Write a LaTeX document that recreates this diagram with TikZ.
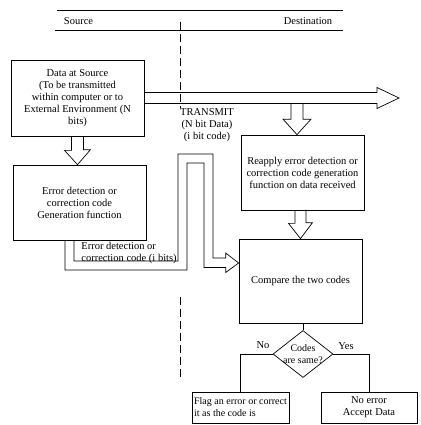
\documentclass[tikz,border=0pt]{standalone}
\usepackage{fontspec}
\setmainfont{Liberation Serif}
\usetikzlibrary{shapes.geometric,calc}

\begin{document}
\begin{tikzpicture}[x=1pt,y=-1pt,line width=0.7pt,
    every node/.style={font=\fontsize{10.5}{12}\selectfont},
    box/.style={draw,rectangle,align=center,inner sep=2pt},
    hollow/.style={draw,line join=miter},
    border/.style={dash pattern=on 8pt off 4pt}]
    \useasboundingbox (0,0) rectangle (420,425);
    % boxes
    \node [box, minimum width=133pt, minimum height=76pt] (src) at (77.5,98)
        {Data at Source\\(To be transmitted\\within computer or to\\External Environment (N\\bits)};
    \node [box, minimum width=133pt, minimum height=75pt] (gen) at (79.5,202.5)
        {Error detection or\\correction code\\Generation function};
    \node [box, minimum width=123pt, minimum height=75pt] (reapply) at (302.5,172.5)
        {Reapply error detection or\\correction code generation\\function on data received};
    \node [box, minimum width=123pt, minimum height=84pt] (compare) at (300.5,281)
        {Compare the two codes};
    \node [draw, diamond, aspect=1.28, inner sep=-3pt, align=center,
        font=\fontsize{10}{12}\selectfont,
        minimum width=60pt, minimum height=47pt] (check) at (303,354)
        {Codes\\are same?};
    \node [box, minimum width=97pt, minimum height=31pt, align=left, inner sep=1.5pt,
        font=\fontsize{10}{12}\selectfont] (flag) at (240.5,407.5)
        {Flag an error or correct\\it as the code is};
    \node [box, minimum width=96pt, minimum height=31pt] (accept) at (369,407.5)
        {No error\\Accept Data};
    % labels
    \node (srclbl) at (78.5,21) {Source};
    \node (dstlbl) at (308,21) {Destination};
    \node [align=center] (txlbl) at (207,125) {TRANSMIT\\(N bit Data)\\(i bit code)};
    \node [align=left, anchor=west, inner sep=1pt] (codelbl) at (80,252.5) {Error detection or\\correction code (i bits)};
    \node (nolbl) at (263,345) {No};
    \node (yeslbl) at (346,346) {Yes};
    % source / destination border
    \coordinate (R1) at (57,10);
    \coordinate (R2) at (343,10);
    \coordinate (R3) at (55,30);
    \coordinate (R4) at (343,30);
    \coordinate (D1) at (180,22);
    \coordinate (D2) at (180,108);
    \coordinate (D3) at (180,297);
    \coordinate (D4) at (180,380);
    \draw (R1) -- (R2);
    \draw (R3) -- (R4);
    \draw [border] (D1) -- (D2);
    \draw [border] (D3) -- (D4);
    % hollow arrows
    \coordinate (tipR) at (399,98);
    \coordinate (rtip) at ($(reapply.north)+(-5.5,0)$);
    \coordinate (ctip) at ($(compare.west)+(0,-18)$);
    \draw [hollow] ($(src.south)+(-6,0)$) -- ++(0,14) -- ++(-7,0) -- (src.south |- gen.north)
        -- ++(13,-15) -- ++(-7,0) -- ($(src.south)+(6,0)$);
    \draw [hollow] ($(src.east)+(0,-5.5)$) -- ($(tipR)+(-22,-5.5)$) -- ++(0,-5) -- (tipR)
        -- ++(-22,10.5) -- ++(0,-5) -- ($(src.east)+(0,5.5)$);
    \draw [hollow] ($(rtip)+(-6,-31.5)$) -- ++(0,16) -- ++(-8,0) -- (rtip)
        -- ++(14,-15.5) -- ++(-8,0) -- ++(0,-16);
    \draw [hollow] ($(reapply.south -| compare.north)+(-5.5,0)$) -- ++(0,13) -- ++(-6.5,0) -- (compare.north)
        -- ++(12,-16) -- ++(-6.5,0) -- ++(0,-13);
    \draw [hollow] ($(gen.south)+(-14.5,0)$) |- (187,270) |- (204,163) |- ($(ctip)+(-13,4.5)$)
        -- ++(0,5) -- (ctip) -- ++(-13,-10) -- ++(0,5) -| (213,154) -| (178,261) -| ($(gen.south)+(-5.5,0)$);
    % decision
    \draw (check.north) -- (check.north |- compare.south);
    \draw (check.west) -| (flag.north);
    \draw (check.east) -| (accept.north);
\end{tikzpicture}
\end{document}
